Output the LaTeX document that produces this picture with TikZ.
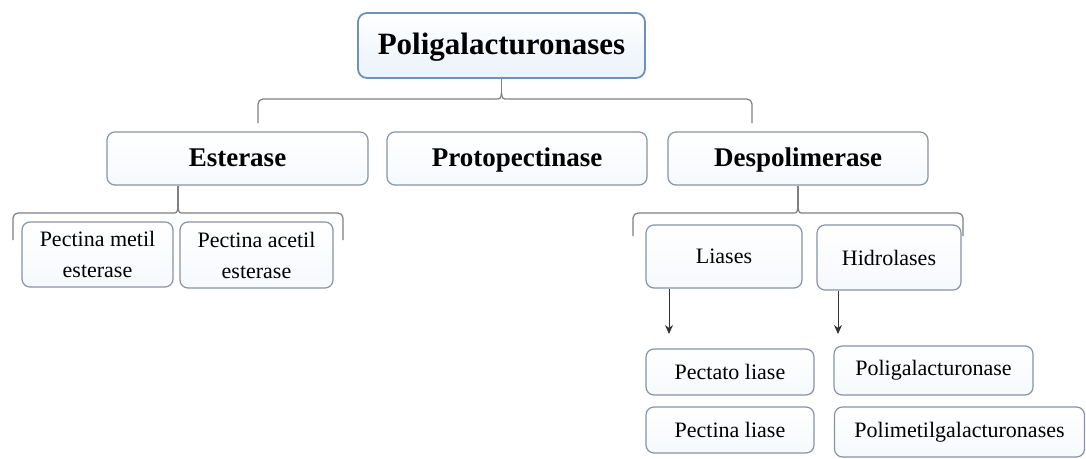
\documentclass[tikz,border=0pt]{standalone}
\usepackage{fontspec}
\setmainfont{Liberation Serif}
\usetikzlibrary{arrows.meta,calc}
\definecolor{topborder}{HTML}{6F90BC}
\definecolor{topfill}{HTML}{EAF2FB}
\definecolor{boxborder}{HTML}{8893A6}
\definecolor{boxfill}{HTML}{F6F9FD}
\definecolor{connc}{HTML}{7F7F7F}
\tikzset{
  titlebox/.style={draw=topborder, line width=1.8pt, rounded corners=9pt, top color=white, bottom color=topfill,
    font=\fontsize{31}{34}\selectfont\bfseries, inner sep=0pt, text height=21pt, text depth=3pt},
  mainbox/.style={draw=boxborder, line width=1.2pt, rounded corners=8pt, top color=white, bottom color=boxfill,
    font=\fontsize{27}{30}\selectfont\bfseries, inner sep=0pt, text height=18pt, text depth=2pt},
  subbox/.style={draw=boxborder, line width=1.2pt, rounded corners=8pt, top color=white, bottom color=boxfill,
    font=\fontsize{22}{31}\selectfont, inner sep=0pt, align=center},
  conn/.style={draw=connc, line width=1.2pt},
  arr/.style={draw=black!80, line width=1pt, -{Stealth[length=9pt,width=8pt]}}
}
\begin{document}
\begin{tikzpicture}[x=1pt,y=-1pt]
\useasboundingbox (0,0) rectangle (1086,458);
\fill[white] (0,0) rectangle (1086,458);

% nodes
\node[titlebox, minimum width=287pt, minimum height=65pt] (top) at (501.5,45.5) {Poligalacturonases};
\node[mainbox, minimum width=261pt, minimum height=53pt] (est) at (237.5,158.5) {Esterase};
\node[mainbox, minimum width=260pt, minimum height=53pt] (proto) at (517,158.5) {Protopectinase};
\node[mainbox, minimum width=260pt, minimum height=53pt] (desp) at (798,158.5) {Despolimerase};

\node[subbox, minimum width=151pt, minimum height=65pt] (pm) at (97.5,254.5) {Pectina metil\\esterase};
\node[subbox, minimum width=153pt, minimum height=66pt] (pa) at (256.5,255) {Pectina acetil\\esterase};

\node[subbox, minimum width=156pt, minimum height=63pt] (lia) at (724,256.5) {Liases};
\node[subbox, minimum width=144pt, minimum height=65pt] (hid) at (889,257.5) {Hidrolases};

\node[subbox, minimum width=168pt, minimum height=46pt] (pel) at (730,372) {Pectato liase};
\node[subbox, minimum width=168pt, minimum height=46pt] (pnl) at (730,430) {Pectina liase};
\node[subbox, minimum width=199pt, minimum height=49pt] (pg) at (933.5,370.5) {Poligalacturonase};
\node[subbox, minimum width=250pt, minimum height=50pt] (pmg) at (959.5,432) {Polimetilgalacturonases};

% top bracket
\coordinate (tl) at (258,123);
\coordinate (tr) at (752,123);
\coordinate (tp) at (501.5,93);
\draw[conn] (top.south) -- (tp);
\draw[conn, rounded corners=5pt] (tl) -- (258,99) -- (495.5,99);
\draw[conn] (495.5,99) .. controls (500.5,99) .. (tp);
\draw[conn, rounded corners=5pt] (tr) -- (752,99) -- (507.5,99);
\draw[conn] (507.5,99) .. controls (502.5,99) .. (tp);

% esterase bracket
\coordinate (el) at (13,240);
\coordinate (er) at (343,240);
\coordinate (ep) at (178,207);
\draw[conn] (est.south -| ep) -- (ep);
\draw[conn, rounded corners=5pt] (el) -- (13,213) -- (172,213);
\draw[conn] (172,213) .. controls (177,213) .. (ep);
\draw[conn, rounded corners=5pt] (er) -- (343,213) -- (184,213);
\draw[conn] (184,213) .. controls (179,213) .. (ep);

% despolimerase bracket
\coordinate (dl) at (633,236);
\coordinate (dr) at (963,236);
\coordinate (dp) at (798,207);
\draw[conn] (desp.south) -- (dp);
\draw[conn, rounded corners=5pt] (dl) -- (633,213) -- (792,213);
\draw[conn] (792,213) .. controls (797,213) .. (dp);
\draw[conn, rounded corners=5pt] (dr) -- (963,213) -- (804,213);
\draw[conn] (804,213) .. controls (799,213) .. (dp);

% arrows
\coordinate (la) at (669,334);
\coordinate (ha) at (838,334);
\draw[arr] (lia.south -| la) -- (la);
\draw[arr] (hid.south -| ha) -- (ha);
\end{tikzpicture}
\end{document}
